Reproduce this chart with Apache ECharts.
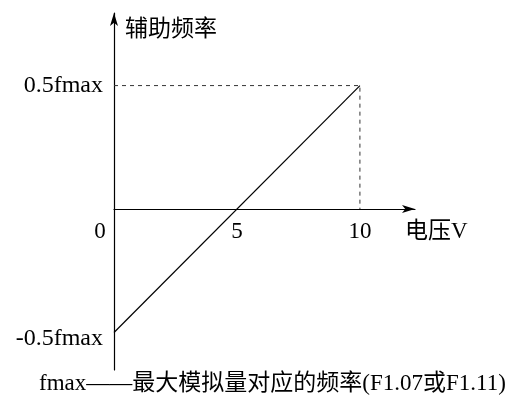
<!DOCTYPE html>
<html>
<head>
<meta charset="utf-8">
<script src="https://cdn.jsdelivr.net/npm/echarts@6/dist/echarts.min.js"></script>
<style>
html,body{margin:0;padding:0;background:#fff;}
#main{width:517px;height:397px;}
</style>
</head>
<body>
<div id="main"></div>
<script>
// 电压 -> 辅助频率
var xTicks = [0, 5, 10];
var yTicks = [-0.5, 0.5];
var freqLine = [[0, -0.5], [10, 0.5]];
var guideLine = [[0, 0.5], [10, 0.5], [10, 0]];
var xName = '电压V';
var yName = '辅助频率';
var footText = 'fmax——最大模拟量对应的频率(F1.07或F1.11)';

var fontF = "'Liberation Serif', 'Noto Sans CJK SC', serif";

// x 轴刻度文字放在 y=0 处（横轴在中间）
var xLabelData = [];
for (var i = 0; i < xTicks.length; i++) {
	var item = {value: [xTicks[i], 0]};
	if (xTicks[i] === 0) {
		item.label = {offset: [-14, 0]};
	}
	xLabelData.push(item);
}

var chart = echarts.init(document.getElementById('main'));
var option = {
	animation: false,
	backgroundColor: '#fff',
	title: {
		text: footText,
		left: 39,
		top: 372,
		padding: 0,
		textStyle: {
			fontFamily: fontF,
			fontSize: 23,
			fontWeight: 'normal',
			color: '#000'
		}
	},
	grid: {
		left: 114,
		top: 13,
		width: 301,
		height: 357,
		containLabel: false,
		outerBoundsMode: 'none'
	},
	xAxis: {
		type: 'value',
		min: 0,
		max: 12.24,
		name: xName,
		nameLocation: 'end',
		nameGap: -10,
		nameTextStyle: {
			fontFamily: fontF,
			fontSize: 23,
			color: '#000',
			align: 'left',
			verticalAlign: 'top',
			padding: [11, 0, 0, 0]
		},
		splitLine: {show: false},
		axisTick: {show: false},
		axisLabel: {show: false},
		axisLine: {
			onZero: true,
			symbol: ['none', 'arrow'],
			symbolSize: [6, 13],
			lineStyle: {color: '#000', width: 1.2}
		}
	},
	yAxis: {
		type: 'value',
		min: -0.652,
		max: 0.794,
		name: yName,
		nameLocation: 'end',
		nameGap: -14,
		nameTextStyle: {
			fontFamily: "'Noto Sans CJK SC', sans-serif",
			fontSize: 23,
			color: '#000',
			align: 'left',
			verticalAlign: 'middle',
			padding: [0, 0, 0, 11]
		},
		splitLine: {show: false},
		axisTick: {show: false},
		axisLine: {
			onZero: false,
			symbol: ['none', 'arrow'],
			symbolSize: [6, 13],
			lineStyle: {color: '#000', width: 1.2}
		},
		axisLabel: {
			customValues: yTicks,
			margin: 11,
			fontFamily: fontF,
			fontSize: 24,
			color: '#000',
			formatter: function (v) {
				if (v < 0) {
					return '{n|' + v + 'fmax}';
				}
				return v + 'fmax';
			},
			rich: {
				n: {
					fontFamily: fontF,
					fontSize: 24,
					color: '#000',
					padding: [12, 0, 0, 0]
				}
			}
		}
	},
	series: [
		{
			type: 'line',
			data: guideLine,
			symbol: 'none',
			silent: true,
			lineStyle: {color: '#333', width: 1, type: [4, 4]}
		},
		{
			type: 'line',
			data: freqLine,
			symbol: 'none',
			silent: true,
			lineStyle: {color: '#000', width: 1.2}
		},
		{
			type: 'scatter',
			data: xLabelData,
			symbolSize: 0,
			silent: true,
			itemStyle: {opacity: 1},
			label: {
				show: true,
				position: 'bottom',
				distance: 11,
				opacity: 1,
				fontFamily: fontF,
				fontSize: 23,
				color: '#000',
				textBorderWidth: 0,
				formatter: function (p) {
					return p.value[0] + '';
				}
			}
		}
	]
};
chart.setOption(option);
</script>
</body>
</html>
